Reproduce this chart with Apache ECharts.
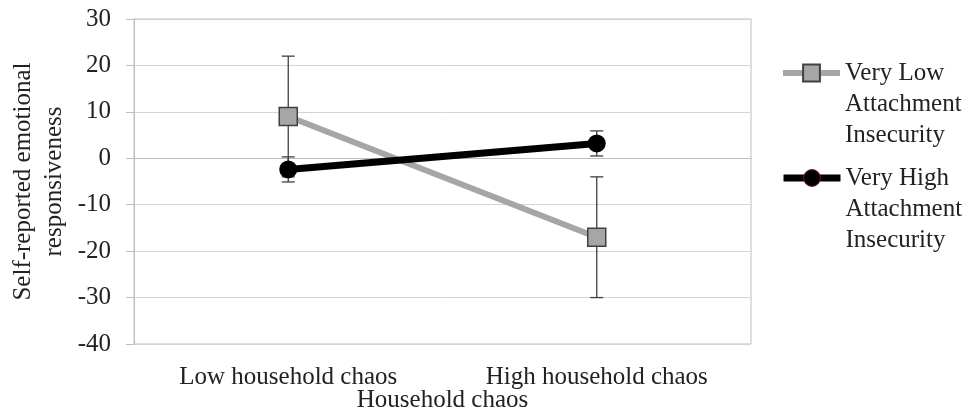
<!DOCTYPE html>
<html>
<head>
<meta charset="utf-8">
<script src="https://cdn.jsdelivr.net/npm/echarts@6/dist/echarts.min.js"></script>
<style>html,body{margin:0;padding:0;background:#fff}#c{width:972px;height:415px}</style>
</head>
<body>
<div id="c"></div>
<script>
var categories = ['Low household chaos', 'High household chaos'];
var seriesNames = ['Very Low Attachment Insecurity', 'Very High Attachment Insecurity'];
var legendLines = [['Very Low', 'Attachment', 'Insecurity'], ['Very High', 'Attachment', 'Insecurity']];
var lowInsecurity = [9, -17];
var lowInsecurityErr = [13, 13];
var highInsecurity = [-2.4, 3.2];
var highInsecurityErr = [2.7, 2.7];
var yTicks = [-40, -30, -20, -10, 0, 10, 20, 30];
var yTitle = 'Self-reported emotional\nresponsiveness';
var xTitle = 'Household chaos';

var FONT = 'Liberation Serif';
var TXT = '#222';

function errData(vals, errs) {
  return vals.map(function (v, i) { return [i, v - errs[i], v + errs[i]]; });
}
function errRender(params, api) {
  var x = api.value(0);
  var lo = api.coord([x, api.value(1)]);
  var hi = api.coord([x, api.value(2)]);
  var hw = 6.5;
  var st = { stroke: '#404040', lineWidth: 1.3 };
  return {
    type: 'group',
    children: [
      { type: 'line', shape: { x1: lo[0], y1: lo[1], x2: hi[0], y2: hi[1] }, style: st },
      { type: 'line', shape: { x1: lo[0] - hw, y1: lo[1], x2: lo[0] + hw, y2: lo[1] }, style: st },
      { type: 'line', shape: { x1: hi[0] - hw, y1: hi[1], x2: hi[0] + hw, y2: hi[1] }, style: st }
    ]
  };
}

function makeLegend(idx, top, lineW, extraItemStyle) {
  var d = { name: seriesNames[idx] };
  if (extraItemStyle) d.itemStyle = extraItemStyle;
  return {
    data: [d],
    orient: 'vertical',
    left: 780,
    top: top,
    padding: 0,
    itemWidth: 57,
    itemHeight: 21,
    itemGap: 0,
    selectedMode: false,
    lineStyle: { width: lineW },
    formatter: function (name) { return '\n\n' + legendLines[seriesNames.indexOf(name)].join('\n'); },
    textStyle: { fontFamily: FONT, fontSize: 25, color: TXT, lineHeight: 31 }
  };
}

var chart = echarts.init(document.getElementById('c'), null, { renderer: 'canvas' });
chart.setOption({
  animation: false,
  backgroundColor: '#fff',
  grid: { left: 134, right: 221, top: 19, bottom: 71, show: true, borderColor: '#bfbfbf', borderWidth: 1, backgroundColor: 'transparent', containLabel: false, outerBoundsMode: 'none' },
  legend: [
    makeLegend(0, 73 - 77.5, 6),
    makeLegend(1, 178 - 77.5, 7, { borderColor: '#7a1030', borderWidth: 1 })
  ],
  xAxis: {
    type: 'category',
    data: categories,
    boundaryGap: true,
    axisLine: { show: true, lineStyle: { color: '#bfbfbf', width: 1 } },
    axisTick: { show: false },
    axisLabel: { fontFamily: FONT, fontSize: 25, color: TXT, margin: 19, lineHeight: 28 },
    name: xTitle,
    nameLocation: 'middle',
    nameGap: 42,
    nameMoveOverlap: false,
    nameTextStyle: { fontFamily: FONT, fontSize: 25, color: TXT, lineHeight: 28 }
  },
  yAxis: {
    type: 'value',
    min: yTicks[0],
    max: yTicks[yTicks.length - 1],
    interval: 10,
    axisLine: { show: true, lineStyle: { color: '#bfbfbf', width: 1 } },
    axisTick: { show: true, length: 8, lineStyle: { color: '#bfbfbf' } },
    axisLabel: { fontFamily: FONT, fontSize: 25, color: TXT, margin: 23 },
    splitLine: { show: true, lineStyle: { color: '#d4d4d4', width: 1 } },
    name: yTitle,
    nameLocation: 'middle',
    nameGap: 64,
    nameMoveOverlap: false,
    nameTextStyle: { fontFamily: FONT, fontSize: 25, color: TXT, lineHeight: 31 }
  },
  series: [
    {
      type: 'custom', name: 'errLow', renderItem: errRender, data: errData(lowInsecurity, lowInsecurityErr),
      encode: { x: 0, y: [1, 2] }, z: 1, silent: true
    },
    {
      type: 'custom', name: 'errHigh', renderItem: errRender, data: errData(highInsecurity, highInsecurityErr),
      encode: { x: 0, y: [1, 2] }, z: 1, silent: true
    },
    {
      type: 'line', name: seriesNames[0], data: lowInsecurity, z: 3,
      symbol: 'rect', symbolSize: 18,
      itemStyle: { color: '#a6a6a6', borderColor: '#404040', borderWidth: 1.5 },
      lineStyle: { color: '#a6a6a6', width: 6 }
    },
    {
      type: 'line', name: seriesNames[1], data: highInsecurity, z: 4,
      symbol: 'circle', symbolSize: 18,
      itemStyle: { color: '#000', borderColor: '#000', borderWidth: 0 },
      lineStyle: { color: '#000', width: 7 }
    }
  ]
});
</script>
</body>
</html>
